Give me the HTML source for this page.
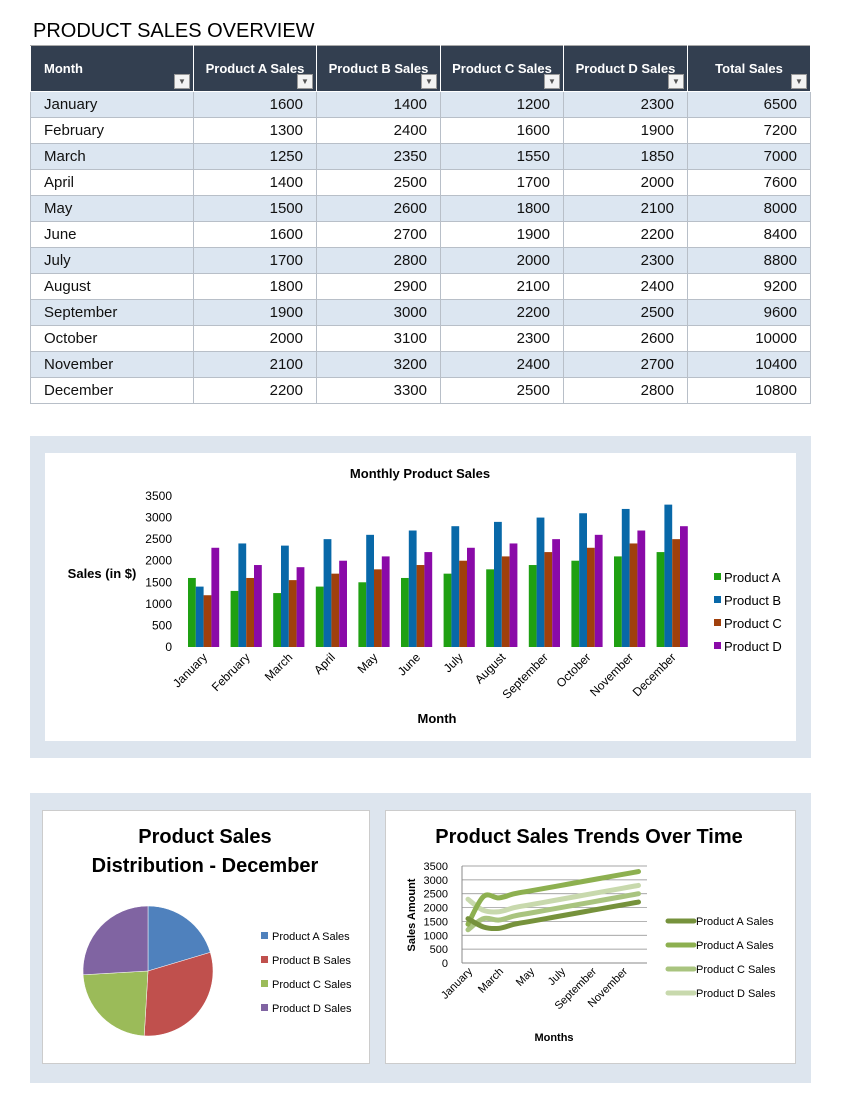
<!DOCTYPE html>
<html><head><meta charset="utf-8"><style>
body{margin:0;width:841px;height:1113px;background:#fff;font-family:"Liberation Sans",Arial,sans-serif;position:relative;overflow:hidden}
.abs{position:absolute}
table{position:absolute;left:30px;top:45px;border-collapse:collapse;font-size:15px;table-layout:fixed;width:780px}
td,th{border:1px solid #b8bfc8;padding:0 13px;height:25px;box-sizing:border-box;white-space:nowrap;overflow:hidden}
th{background:#333f50;color:#fff;font-size:13px;height:46px;position:relative;border-color:#fff;border-top:1px solid #aaa;padding:0 4px;text-align:center}
th .dd{position:absolute;right:3px;bottom:2px;width:14px;height:13px;background:#f3f3f3;border:1px solid #999;color:#555;font-size:8px;line-height:13px;text-align:center}
tr:nth-child(odd) td{background:#dce6f1}
td{text-align:right;color:#111;height:26px}td:first-child{text-align:left}
</style></head><body>
<div class="abs" style="left:33px;top:20px;font-size:20px;color:#000">PRODUCT SALES OVERVIEW</div>
<table>
<colgroup><col style="width:163px"><col style="width:123px"><col style="width:124px"><col style="width:123px"><col style="width:124px"><col style="width:123px"></colgroup>
<thead><tr><th style="text-align:left;padding-left:13px">Month<span class="dd">▼</span></th><th>Product A Sales<span class="dd">▼</span></th><th>Product B Sales<span class="dd">▼</span></th><th>Product C Sales<span class="dd">▼</span></th><th>Product D Sales<span class="dd">▼</span></th><th>Total Sales<span class="dd">▼</span></th></tr></thead>
<tbody id="tb"></tbody>
</table>
<div class="abs" style="left:30px;top:436px;width:781px;height:322px;background:#dde5ee"></div>
<div class="abs" style="left:45px;top:453px;width:751px;height:288px;background:#fff"></div>
<div class="abs" style="left:30px;top:793px;width:781px;height:290px;background:#dde5ee"></div>
<div class="abs" style="left:42px;top:810px;width:326px;height:252px;background:#fff;border:1px solid #ccc"></div>
<div class="abs" style="left:385px;top:810px;width:409px;height:252px;background:#fff;border:1px solid #ccc"></div>
<svg id="svg" class="abs" style="left:0;top:0" width="841" height="1113" font-family="Liberation Sans, Arial, sans-serif"></svg>
<script>
const months=["January","February","March","April","May","June","July","August","September","October","November","December"];
const salesA=[1600,1300,1250,1400,1500,1600,1700,1800,1900,2000,2100,2200];
const salesB=[1400,2400,2350,2500,2600,2700,2800,2900,3000,3100,3200,3300];
const salesC=[1200,1600,1550,1700,1800,1900,2000,2100,2200,2300,2400,2500];
const salesD=[2300,1900,1850,2000,2100,2200,2300,2400,2500,2600,2700,2800];
const yTicks=[0,500,1000,1500,2000,2500,3000,3500];
const lineXLabels=["January","March","May","July","September","November"];
const seriesNames=["Product A","Product B","Product C","Product D"];
const pieNames=["Product A Sales","Product B Sales","Product C Sales","Product D Sales"];
const lineNames=["Product A Sales","Product A Sales","Product C Sales","Product D Sales"];
const series=[salesA,salesB,salesC,salesD];
const tb=document.getElementById('tb');
months.forEach((m,i)=>{const tr=document.createElement('tr');


const tot=salesA[i]+salesB[i]+salesC[i]+salesD[i];
[m,salesA[i],salesB[i],salesC[i],salesD[i],tot].forEach(v=>{const td=document.createElement('td');td.textContent=v;tr.appendChild(td);});tb.appendChild(tr);});
const NS='http://www.w3.org/2000/svg',svg=document.getElementById('svg');
function el(t,a,txt){const e=document.createElementNS(NS,t);for(const k in a)e.setAttribute(k,a[k]);if(txt!==undefined)e.textContent=txt;svg.appendChild(e);return e;}
// Bar chart
const by=v=>647-v*(151/3500), bx=i=>188+i*42.6;
const bcol=["#1fa012","#0868a8","#a0400c","#8a0aa8"];
let t=el('text',{x:420,y:478,'font-size':13,'font-weight':'bold','text-anchor':'middle'},'Monthly Product Sales');

yTicks.forEach(v=>{let e=el('text',{x:172,y:by(v)+4,'font-size':12,'text-anchor':'end'},v);});
t=el('text',{x:102,y:578,'font-size':13,'font-weight':'bold','text-anchor':'middle'},'Sales (in $)');
t=el('text',{x:437,y:723,'font-size':13,'font-weight':'bold','text-anchor':'middle'},'Month');
months.forEach((m,i)=>{series.forEach((s,j)=>{let r=el('rect',{x:bx(i)+j*7.8,y:by(s[i]),width:7.8,height:647-by(s[i]),fill:bcol[j]});
});
let e=el('text',{x:bx(i)+20,y:658,'font-size':12,'text-anchor':'end',transform:`rotate(-45 ${bx(i)+20} 658)`},m);
});
seriesNames.forEach((n,j)=>{el('rect',{x:714,y:573+j*23,width:7,height:7,fill:bcol[j]});let e=el('text',{x:724,y:582+j*23,'font-size':13},n);});
// Pie
const pcol=["#4f81bd","#c0504d","#9bbb59","#8064a2"];
const pv=series.map(s=>s[11]);const ptot=pv.reduce((a,b)=>a+b,0);
let ang=-Math.PI/2;const cx=148,cy=971,R=65;
pv.forEach((v,j)=>{const a2=ang+v/ptot*2*Math.PI;const large=a2-ang>Math.PI?1:0;
let p=el('path',{d:`M${cx},${cy}L${cx+R*Math.cos(ang)},${cy+R*Math.sin(ang)}A${R},${R} 0 ${large} 1 ${cx+R*Math.cos(a2)},${cy+R*Math.sin(a2)}Z`,fill:pcol[j],stroke:'#fff','stroke-width':0.5});
ang=a2;
el('rect',{x:261,y:932+j*24,width:7,height:7,fill:pcol[j]});let e=el('text',{x:272,y:940+j*24,'font-size':11},pieNames[j]);});
t=el('text',{x:205,y:843,'font-size':20,'font-weight':'bold','text-anchor':'middle'},'Product Sales');
el('text',{x:205,y:872,'font-size':20,'font-weight':'bold','text-anchor':'middle'},'Distribution - December');
// Line
const ly=v=>963-v*(97/3500), lx=i=>468+i*15.5;
t=el('text',{x:589,y:843,'font-size':20,'font-weight':'bold','text-anchor':'middle'},'Product Sales Trends Over Time');
yTicks.forEach(v=>{if(v>0)el('line',{x1:462,x2:647,y1:ly(v),y2:ly(v),stroke:'#888','stroke-width':0.7});let e=el('text',{x:448,y:ly(v)+4,'font-size':11,'text-anchor':'end'},v);});
el('line',{x1:462,x2:462,y1:866,y2:963,stroke:'#888'});el('line',{x1:462,x2:647,y1:963,y2:963,stroke:'#888'});
const lcol=["#76923c","#8db050","#a9c47f","#c8d9ad"];
[3,2,1,0].forEach(j=>{const s=series[j];const P=s.map((v,i)=>[lx(i),ly(v)]);let d=`M${P[0]}`;
for(let i=0;i<P.length-1;i++){const p0=P[Math.max(0,i-1)],p1=P[i],p2=P[i+1],p3=P[Math.min(P.length-1,i+2)];
d+=`C${p1[0]+(p2[0]-p0[0])/6},${p1[1]+(p2[1]-p0[1])/6} ${p2[0]-(p3[0]-p1[0])/6},${p2[1]-(p3[1]-p1[1])/6} ${p2[0]},${p2[1]}`;}
let p=el('path',{d,fill:'none',stroke:lcol[j],'stroke-width':5,'stroke-linecap':'round'});});
lineXLabels.forEach((m,k)=>{const x=lx(k*2)+5;let e=el('text',{x,y:972,'font-size':11,'text-anchor':'end',transform:`rotate(-45 ${x} 972)`},m);});
t=el('text',{x:0,y:0,'font-size':11,'font-weight':'bold','text-anchor':'middle',transform:'translate(415 915) rotate(-90)'},'Sales Amount');
t=el('text',{x:554,y:1041,'font-size':11,'font-weight':'bold','text-anchor':'middle'},'Months');
lineNames.forEach((n,j)=>{el('line',{x1:668,x2:694,y1:921+j*24,y2:921+j*24,stroke:lcol[j],'stroke-width':5,'stroke-linecap':'round'});let e=el('text',{x:696,y:925+j*24,'font-size':11},n);});
</script>
</body></html>
